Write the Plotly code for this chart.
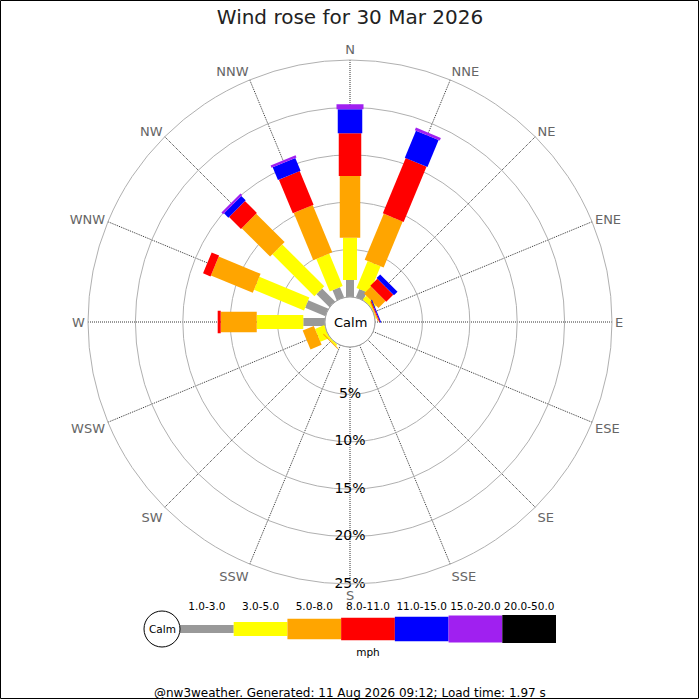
import plotly.graph_objects as go

directions = ["N", "NNE", "NE", "ENE", "E", "ESE", "SE", "SSE",
              "S", "SSW", "SW", "WSW", "W", "WNW", "NW", "NNW"]
angles = [i * 22.5 for i in range(16)]

speed_labels = ["1.0-3.0", "3.0-5.0", "5.0-8.0", "8.0-11.0", "11.0-15.0", "15.0-20.0", "20.0-50.0"]
colors = ["#999999", "#FFFF00", "#FFA500", "#FF0000", "#0000FF", "#A020F0", "#000000"]
bar_px = [8, 14, 20.5, 22.5, 24.5, 27, 28]

# percentage of time per direction for each speed band (mph)
s_1_3 = [1.79, 0.95, 0, 0, 0, 0, 0, 0, 0, 0, 0, 0, 2.29, 2.31, 1.94, 1.16]
s_3_5 = [4.47, 3.07, 0.53, 0.1, 0, 0, 0, 0, 0, 0, 0.2, 1.05, 4.91, 5.71, 6.26, 3.71]
s_5_8 = [6.5, 5.26, 1.05, 0.1, 0, 0, 0, 0, 0, 0, 0.1, 1.27, 3.8, 4.78, 4.24, 5.39]
s_8_11 = [4.51, 6.31, 1.05, 0.1, 0, 0, 0, 0, 0, 0, 0, 0, 0.32, 0.85, 1.78, 3.84]
s_11_15 = [2.53, 3.08, 0.53, 0.1, 0, 0, 0, 0, 0, 0, 0, 0, 0, 0, 0.65, 1.46]
s_15_20 = [0.53, 0.3, 0, 0, 0, 0, 0, 0, 0, 0, 0, 0, 0, 0, 0.25, 0.25]
s_20_50 = [0] * 16
bands = [s_1_3, s_3_5, s_5_8, s_8_11, s_11_15, s_15_20, s_20_50]

ring_vals = [5, 10, 15, 20, 25]
ring_text = ["5%", "10%", "15%", "20%", "25%"]

title_text = "Wind rose for 30 Mar 2026"
footer_text = "@nw3weather. Generated: 11 Aug 2026 09:12; Load time: 1.97 s"
unit_text = "mph"
calm_text = "Calm"

FONT = "DejaVu Sans"
W = H = 700
cx, cy, R = 350, 322, 262
hole_px = 25

fig = go.Figure()

cum = [0.0] * 16
for bi, band in enumerate(bands):
    rr, tt = [], []
    for di in range(16):
        v = band[di]
        if v > 0:
            rr += [cum[di], cum[di] + v, None]
            tt += [angles[di], angles[di], None]
            cum[di] += v
    if rr:
        fig.add_trace(go.Scatterpolar(
            r=rr, theta=tt, mode="lines",
            line=dict(color=colors[bi], width=bar_px[bi]),
            hoverinfo="skip", showlegend=False, connectgaps=False))

fig.add_trace(go.Scatterpolar(
    r=ring_vals, theta=[180] * len(ring_vals), mode="text",
    text=ring_text, textposition="middle center",
    textfont=dict(family=FONT, size=14, color="#000000"),
    hoverinfo="skip", showlegend=False))

# legend key (cartesian strip)
for bi in range(len(speed_labels)):
    fig.add_trace(go.Scatter(
        x=[bi, bi + 1], y=[0, 0], mode="lines",
        line=dict(color=colors[bi], width=bar_px[bi]),
        xaxis="x2", yaxis="y2", hoverinfo="skip", showlegend=False))
fig.add_trace(go.Scatter(
    x=[i + 0.5 for i in range(len(speed_labels))], y=[22] * len(speed_labels),
    mode="text", text=speed_labels,
    textfont=dict(family=FONT, size=10.5, color="#000000"),
    xaxis="x2", yaxis="y2", hoverinfo="skip", showlegend=False))
fig.add_trace(go.Scatter(
    x=[3.5], y=[-24], mode="text", text=[unit_text],
    textfont=dict(family=FONT, size=10.5, color="#000000"),
    xaxis="x2", yaxis="y2", hoverinfo="skip", showlegend=False))

fig.update_layout(
    width=W, height=H,
    margin=dict(l=0, r=0, t=0, b=0),
    paper_bgcolor="white", plot_bgcolor="white",
    font=dict(family=FONT),
    polar=dict(
        domain=dict(x=[(cx - R) / W, (cx + R) / W],
                    y=[1 - (cy + R) / H, 1 - (cy - R) / H]),
        hole=hole_px / R,
        bgcolor="white",
        radialaxis=dict(range=[0, 25], tickvals=[5, 10, 15, 20, 25],
                        showticklabels=False, ticks="", showline=False,
                        gridcolor="#b0b0b0", gridwidth=1),
        angularaxis=dict(rotation=90, direction="clockwise",
                         tickmode="array", tickvals=angles, ticktext=directions,
                         tickfont=dict(family=FONT, size=13, color="#666666"),
                         ticks="", showline=True, linecolor="#b0b0b0", linewidth=1,
                         gridcolor="#333333", griddash="1px,1px", gridwidth=1),
    ),
    xaxis2=dict(domain=[180 / W, 556 / W], range=[0, 7], visible=False, fixedrange=True),
    yaxis2=dict(domain=[(H - 660) / H, (H - 598) / H], range=[-31, 31], visible=False, fixedrange=True),
    title=dict(text=title_text, x=0.5, xanchor="center", y=1 - 17 / H, yanchor="middle",
               font=dict(family=FONT, size=20, color="#222222")),
    annotations=[
        dict(text=calm_text, x=cx / W, y=1 - cy / H, xref="paper", yref="paper",
             xanchor="center", yanchor="middle",
             showarrow=False, font=dict(family=FONT, size=13, color="#000000")),
        dict(text=calm_text, x=162 / W, y=1 - 629 / H, xref="paper", yref="paper",
             xanchor="center", yanchor="middle",
             showarrow=False, font=dict(family=FONT, size=10.5, color="#000000")),
        dict(text=footer_text, x=0.5, y=1 - 693 / H, xref="paper", yref="paper",
             xanchor="center", yanchor="middle",
             showarrow=False, font=dict(family=FONT, size=12, color="#000000")),
    ],
    shapes=[
        dict(type="circle", xref="paper", yref="paper",
             x0=(cx - hole_px) / W, x1=(cx + hole_px) / W,
             y0=1 - (cy + hole_px) / H, y1=1 - (cy - hole_px) / H,
             line=dict(color="#a0a0a0", width=1), fillcolor="white", layer="above"),
        dict(type="circle", xref="paper", yref="paper",
             x0=(162 - 18) / W, x1=(162 + 18) / W,
             y0=1 - (629 + 18) / H, y1=1 - (629 - 18) / H,
             line=dict(color="#000000", width=1), fillcolor="white"),
        dict(type="rect", xref="paper", yref="paper",
             x0=0.5 / W, x1=698.5 / W, y0=1.5 / H, y1=1 - 0.5 / H,
             line=dict(color="#000000", width=1)),
    ],
)

fig.write_html("out.html", config={"displayModeBar": False},
               post_script="document.body.style.margin='0px';")
